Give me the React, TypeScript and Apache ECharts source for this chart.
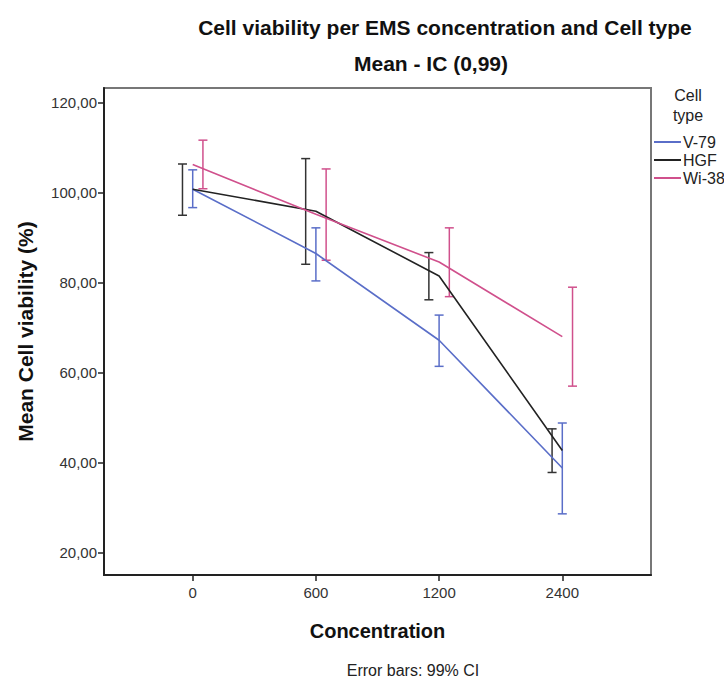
import React, { useEffect, useRef } from "react";
import * as echarts from "echarts";

const categories = ["0", "600", "1200", "2400"];
const seriesNames = ["V-79", "HGF", "Wi-38"];
const v79Mean = [100.8, 86.5, 67.2, 38.8];
const v79Low = [96.7, 80.4, 61.4, 28.6];
const v79High = [105.1, 92.2, 72.8, 48.8];
const hgfMean = [100.8, 95.9, 81.5, 42.7];
const hgfLow = [95.0, 84.1, 76.2, 37.8];
const hgfHigh = [106.4, 107.6, 86.7, 47.5];
const wiMean = [106.3, 95.2, 84.6, 68.0];
const wiLow = [100.9, 85.0, 76.9, 57.0];
const wiHigh = [111.7, 105.3, 92.2, 79.0];
const yTicks = [20, 40, 60, 80, 100, 120];
const xTicks = [0, 1, 2, 3];

const FONT = "Liberation Sans, Arial, sans-serif";
const colors = ["#5a6ec8", "#222222", "#d0508c"];
const barColors = ["#5a6ec8", "#333333", "#d0508c"];
const offsets = [0, -0.083, 0.083];

export default function App() {
  const ref = useRef<HTMLDivElement>(null);
  useEffect(() => {
    document.body.style.margin = "0";
    const chart = echarts.init(ref.current!, null, { renderer: "svg" });
    const means = [v79Mean, hgfMean, wiMean];
    const lows = [v79Low, hgfLow, wiLow];
    const highs = [v79High, hgfHigh, wiHigh];

    const lineSeries = seriesNames.map((name, s) => ({
      type: "line",
      name,
      data: means[s].map((v, i) => [i, v]),
      showSymbol: false,
      symbol: "none",
      lineStyle: { color: colors[s], width: 1.6 },
      itemStyle: { color: colors[s] },
      z: 3,
    }));

    const errSeries = seriesNames.map((_, s) => ({
      type: "custom",
      data: categories.map((_c, i) => [i, lows[s][i], highs[s][i]]),
      renderItem: (params: any, api: any) => {
        const x = api.value(0) + offsets[s];
        const lo = api.coord([x, api.value(1)]);
        const hi = api.coord([x, api.value(2)]);
        const hw = 4.5;
        const st = { stroke: barColors[s], lineWidth: 1.5 };
        return {
          type: "group",
          children: [
            { type: "line", shape: { x1: lo[0], y1: lo[1], x2: hi[0], y2: hi[1] }, style: st },
            { type: "line", shape: { x1: lo[0] - hw, y1: lo[1], x2: lo[0] + hw, y2: lo[1] }, style: st },
            { type: "line", shape: { x1: hi[0] - hw, y1: hi[1], x2: hi[0] + hw, y2: hi[1] }, style: st },
          ],
        };
      },
      z: 2,
    }));

    chart.setOption({
      animation: false,
      textStyle: { fontFamily: FONT },
      grid: {
        left: 104,
        top: 88,
        right: 73,
        bottom: 105,
        show: true,
        borderColor: "#777",
        borderWidth: 2,
      },
      legend: {
        orient: "vertical",
        left: 654,
        top: 134,
        padding: 0,
        itemWidth: 27,
        itemHeight: 2,
        itemGap: 2,
        icon: "rect",
        data: seriesNames,
        textStyle: { fontSize: 16, color: "#222", fontFamily: FONT, padding: [0, 0, 0, -3] },
      },
      xAxis: {
        type: "value",
        min: -0.72,
        max: 3.72,
        name: "Concentration",
        nameLocation: "middle",
        nameGap: 46,
        nameTextStyle: { fontSize: 20, fontWeight: "bold", color: "#111", fontFamily: FONT },
        axisLine: { show: true, onZero: false, lineStyle: { color: "#222", width: 2 } },
        axisTick: { show: true, customValues: xTicks, length: 6, lineStyle: { color: "#222", width: 1.5 } },
        axisLabel: {
          customValues: xTicks,
          formatter: (v: number) => categories[Math.round(v)],
          fontSize: 15,
          color: "#333",
          margin: 10,
          fontFamily: FONT,
        },
        splitLine: { show: false },
      },
      yAxis: {
        type: "value",
        min: 15,
        max: 123.3,
        name: "Mean Cell viability (%)",
        nameLocation: "middle",
        nameGap: 68,
        nameRotate: 90,
        nameTextStyle: { fontSize: 21, fontWeight: "bold", color: "#111", fontFamily: FONT },
        axisLine: { show: true, onZero: false, lineStyle: { color: "#222", width: 2 } },
        axisTick: { show: true, customValues: yTicks, length: 6, lineStyle: { color: "#222", width: 1.5 } },
        axisLabel: {
          customValues: yTicks,
          formatter: (v: number) => v.toFixed(2).replace(".", ","),
          fontSize: 15,
          color: "#333",
          margin: 7,
          fontFamily: FONT,
        },
        splitLine: { show: false },
      },
      graphic: [
        {
          type: "text",
          x: 445,
          y: 27,
          style: {
            text: "Cell viability per EMS concentration and Cell type",
            font: `bold 21px ${FONT}`,
            fill: "#111",
            align: "center",
            verticalAlign: "middle",
          },
        },
        {
          type: "text",
          x: 431,
          y: 63,
          style: {
            text: "Mean - IC (0,99)",
            font: `bold 21px ${FONT}`,
            fill: "#111",
            align: "center",
            verticalAlign: "middle",
          },
        },
        {
          type: "text",
          x: 413,
          y: 670,
          style: {
            text: "Error bars: 99% CI",
            font: `16px ${FONT}`,
            fill: "#222",
            align: "center",
            verticalAlign: "middle",
          },
        },
        {
          type: "text",
          x: 688,
          y: 95,
          style: { text: "Cell", font: `16px ${FONT}`, fill: "#222", align: "center", verticalAlign: "middle" },
        },
        {
          type: "text",
          x: 688,
          y: 115,
          style: { text: "type", font: `16px ${FONT}`, fill: "#222", align: "center", verticalAlign: "middle" },
        },
      ],
      series: [...errSeries, ...lineSeries],
    });
    return () => chart.dispose();
  }, []);
  return <div ref={ref} style={{ width: 724, height: 680 }} />;
}
